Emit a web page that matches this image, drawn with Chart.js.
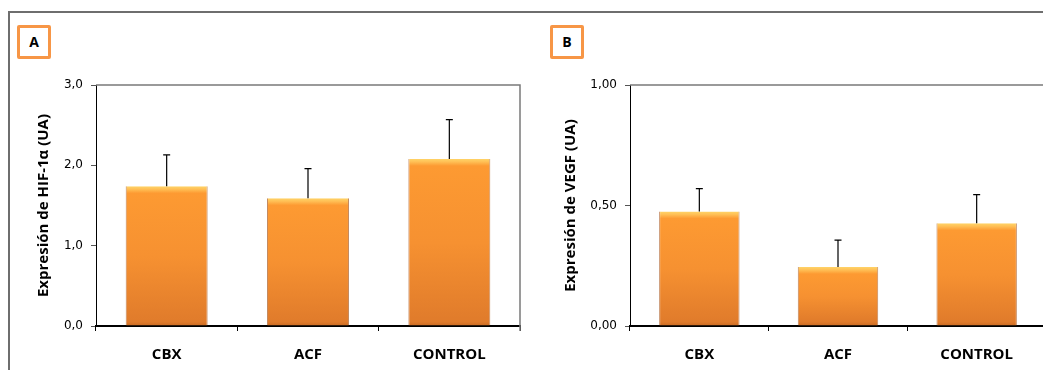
<!DOCTYPE html>
<html>
<head>
<meta charset="utf-8">
<script src="https://cdn.jsdelivr.net/npm/chart.js@4/dist/chart.umd.min.js"></script>
<style>
  html, body { margin: 0; padding: 0; background: #fff; overflow: hidden; }
  #wrap { position: relative; width: 1043px; height: 370px; overflow: hidden; }
  .frame { position: absolute; left: 8px; top: 11px; width: 1100px; height: 400px;
           border-left: 2px solid #6e6e6e; border-top: 2px solid #6e6e6e; }
  .tag { position: absolute; top: 25px; width: 28px; height: 28px; border: 3px solid #f79646;
         border-radius: 2px; font: bold 14px "Open Sans", sans-serif; color: #000;
         text-align: center; line-height: 28px; background: #fff; }
  .box { position: absolute; top: 0; }
</style>
</head>
<body>
<div id="wrap">
  <div class="frame"></div>
  <div class="tag" style="left:17px">A</div>
  <div class="tag" style="left:550px">B</div>
  <div class="box" style="left:0px"><canvas id="chartA" width="530" height="370"></canvas></div>
  <div class="box" style="left:530px"><canvas id="chartB" width="520" height="370"></canvas></div>
</div>
<script>
// data
const categories = ['CBX', 'ACF', 'CONTROL'];
const hifValues = [1.74, 1.59, 2.08];
const hifErrors = [0.39, 0.37, 0.49];
const vegfValues = [0.475, 0.245, 0.426];
const vegfErrors = [0.095, 0.111, 0.119];
const hifTickLabels = ['0,0', '1,0', '2,0', '3,0'];
const vegfTickLabels = ['0,00', '0,50', '1,00'];

const titleFont = { family: '"Open Sans", sans-serif', size: 15, weight: 'bold' };
const catFont = { family: '"Open Sans", sans-serif', size: 15, weight: 'bold' };
const tickFont = { family: '"DejaVu Sans", sans-serif', size: 12 };

function barFill(ctx) {
  const chart = ctx.chart;
  if (!chart.chartArea || ctx.type !== 'data') return '#f7963a';
  const y = chart.scales.y;
  const top = y.getPixelForValue(ctx.parsed.y);
  const bottom = y.getPixelForValue(0);
  const h = Math.max(bottom - top, 1);
  const g = chart.ctx.createLinearGradient(0, top, 0, bottom);
  g.addColorStop(0, '#ffd468');
  g.addColorStop(Math.min(3 / h, 1), '#ffbf55');
  g.addColorStop(Math.min(7 / h, 1), '#fd9a32');
  g.addColorStop(0.5, '#f69131');
  g.addColorStop(Math.max(1 - 4 / h, 0), '#e07b2b');
  g.addColorStop(1, '#c76a24');
  return g;
}

// grey frame on top and right of the plot area
const plotFrame = {
  id: 'plotFrame',
  beforeDatasetsDraw(chart) {
    const { ctx, chartArea: a } = chart;
    ctx.save();
    ctx.strokeStyle = '#7a7a7a';
    ctx.lineWidth = 1.5;
    ctx.beginPath();
    ctx.moveTo(a.left, a.top);
    ctx.lineTo(a.right, a.top);
    ctx.lineTo(a.right, a.bottom + 5);
    ctx.stroke();
    ctx.restore();
  }
};

// one-sided error bars
const errorBars = {
  id: 'errorBars',
  afterDatasetsDraw(chart) {
    const { ctx } = chart;
    const y = chart.scales.y;
    chart.data.datasets.forEach((ds, di) => {
      const meta = chart.getDatasetMeta(di);
      meta.data.forEach((bar, i) => {
        const yTop = y.getPixelForValue(ds.data[i] + ds.errors[i]);
        ctx.save();
        ctx.strokeStyle = '#000';
        ctx.lineWidth = 1.2;
        ctx.beginPath();
        ctx.moveTo(bar.x, bar.y);
        ctx.lineTo(bar.x, yTop);
        ctx.moveTo(bar.x - 3.5, yTop);
        ctx.lineTo(bar.x + 3.5, yTop);
        ctx.stroke();
        ctx.restore();
      });
    });
  }
};

function makeChart(id, values, errors, max, step, tickLabels, title, yWidth, titlePad, padRight) {
  return new Chart(document.getElementById(id), {
    type: 'bar',
    data: {
      labels: categories,
      datasets: [{
        data: values,
        errors: errors,
        backgroundColor: barFill,
        borderColor: 'rgba(170,85,25,0.7)',
        borderWidth: { left: 1, right: 1, top: 0, bottom: 0 },
        borderSkipped: false,
        categoryPercentage: 1,
        barPercentage: 0.58
      }]
    },
    options: {
      responsive: false,
      animation: false,
      devicePixelRatio: 1,
      layout: { padding: { top: 85, right: padRight, left: 0, bottom: 0 } },
      plugins: { legend: { display: false }, tooltip: { enabled: false } },
      scales: {
        x: {
          grid: { display: true, drawOnChartArea: false, drawTicks: true, tickLength: 5, color: '#000', offset: true },
          border: { display: true, color: '#000', width: 2 },
          ticks: { font: catFont, color: '#000', padding: 15, maxRotation: 0 },
          afterFit(scale) { scale.height = 44; }
        },
        y: {
          min: 0, max: max,
          grid: { display: true, drawOnChartArea: false, drawTicks: true, tickLength: 5, color: '#555' },
          border: { display: true, color: '#000', width: 1 },
          ticks: {
            stepSize: step, font: tickFont, color: '#000', padding: 8,
            callback: (v, i) => tickLabels[i]
          },
          title: { display: true, text: title, font: titleFont, color: '#000', padding: { top: titlePad, bottom: 0 } },
          afterFit(scale) { scale.width = yWidth; }
        }
      }
    },
    plugins: [plotFrame, errorBars]
  });
}

makeChart('chartA', hifValues, hifErrors, 3, 1, hifTickLabels, 'Expresión de HIF-1α (UA)', 96, 35, 10);
makeChart('chartB', vegfValues, vegfErrors, 1, 0.5, vegfTickLabels, 'Expresión de VEGF (UA)', 100, 32, 4);
</script>
</body>
</html>
